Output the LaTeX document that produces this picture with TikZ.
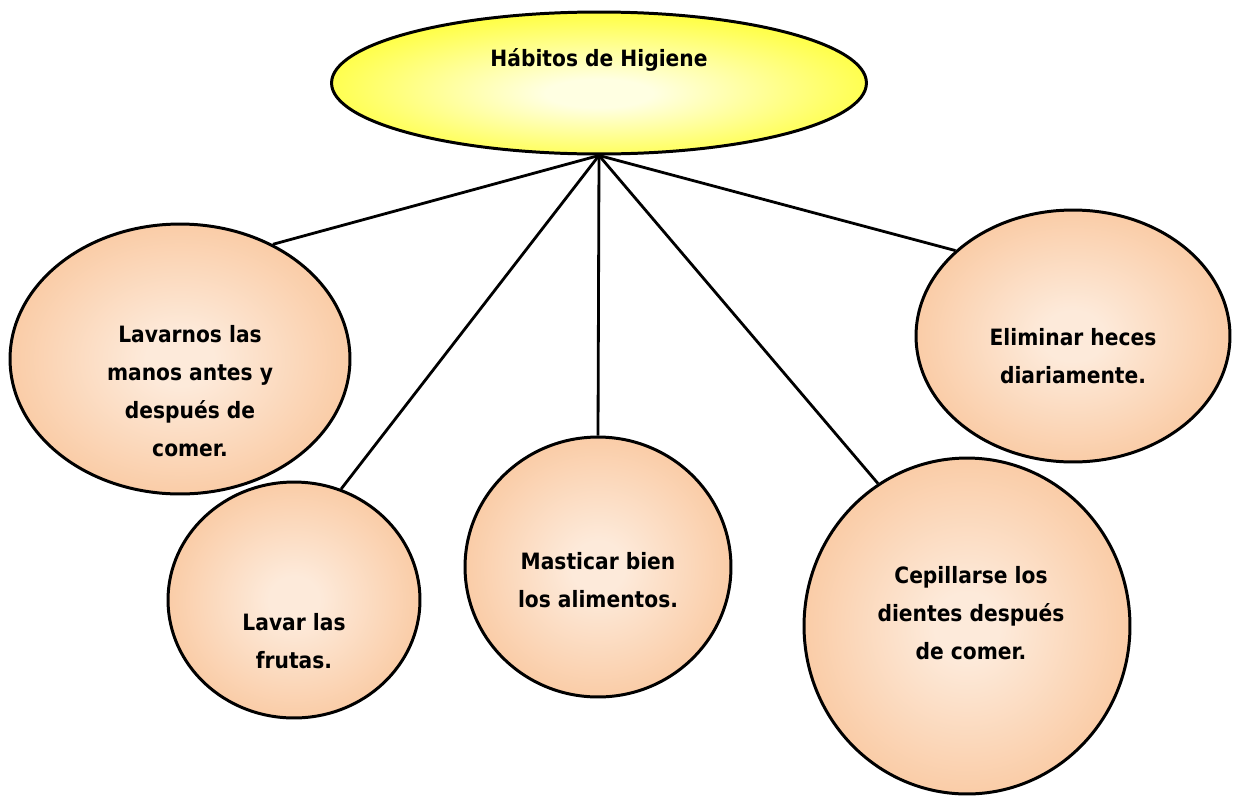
\documentclass[tikz,border=0pt]{standalone}
\usepackage{fontspec}
\setmainfont{DejaVu Sans}[FakeStretch=0.9]
\usetikzlibrary{shapes.geometric}

\definecolor{peachout}{RGB}{248,185,134}
\definecolor{peachin}{RGB}{253,234,218}
\definecolor{yellowout}{RGB}{255,255,0}
\definecolor{yellowin}{RGB}{255,255,226}
\pgfdeclareradialshading{peachball}{\pgfpoint{0bp}{0bp}}{color(0bp)=(peachin); color(5bp)=(peachin); color(38bp)=(peachout); color(50bp)=(peachout)}
\pgfdeclareradialshading{yellowball}{\pgfpoint{0bp}{-4bp}}{color(0bp)=(yellowin); color(5bp)=(yellowin); color(36bp)=(yellowout); color(50bp)=(yellowout)}

\begin{document}
\begin{tikzpicture}[x=0.02cm, y=-0.02cm,
    bubble/.style={ellipse, draw, line width=1.7pt, shading=peachball, inner sep=0pt},
    bubbletxt/.style={font=\bfseries\fontsize{12.8}{21.6}\selectfont, align=center},
    link/.style={black, line width=1.6pt}]
            \useasboundingbox (0,0) rectangle (1236,798);
            \node[ellipse, draw, line width=1.7pt, shading=yellowball, minimum width=10.7cm, minimum height=2.84cm,
                label={[bubbletxt, yshift=0.46cm]center:Hábitos de Higiene}] (habitos) at (599,83) {};
            \node[bubble, minimum width=6.8cm, minimum height=5.4cm,
                label={[bubbletxt, xshift=0.2cm, yshift=-0.64cm]center:{Lavarnos las\\manos antes y\\después de\\comer.}}] (lavarnos) at (180,359) {};
            \node[bubble, minimum width=5.04cm, minimum height=4.72cm,
                label={[bubbletxt, yshift=-0.82cm]center:{Lavar las\\frutas.}}] (lavar) at (294,600) {};
            \node[bubble, minimum width=5.32cm, minimum height=5.2cm,
                label={[bubbletxt, yshift=-0.26cm]center:{Masticar bien\\los alimentos.}}] (masticar) at (598,567) {};
            \node[bubble, minimum width=6.52cm, minimum height=6.72cm,
                label={[bubbletxt, xshift=0.08cm, yshift=0.26cm]center:{Cepillarse los\\dientes después\\de comer.}}] (cepillar) at (967,626) {};
            \node[bubble, minimum width=6.28cm, minimum height=5.04cm,
                label={[bubbletxt, yshift=-0.4cm]center:{Eliminar heces\\diariamente.}}] (eliminar) at (1073,336) {};
            \draw[link] (habitos.south) -- (lavarnos.51);
            \draw[link] (habitos.south) -- (lavar.67);
            \draw[link] (habitos.south) -- (masticar.north);
            \draw[link] (habitos.south) -- (cepillar.122);
            \draw[link] (habitos.south) -- (eliminar.144);
\end{tikzpicture}
\end{document}
